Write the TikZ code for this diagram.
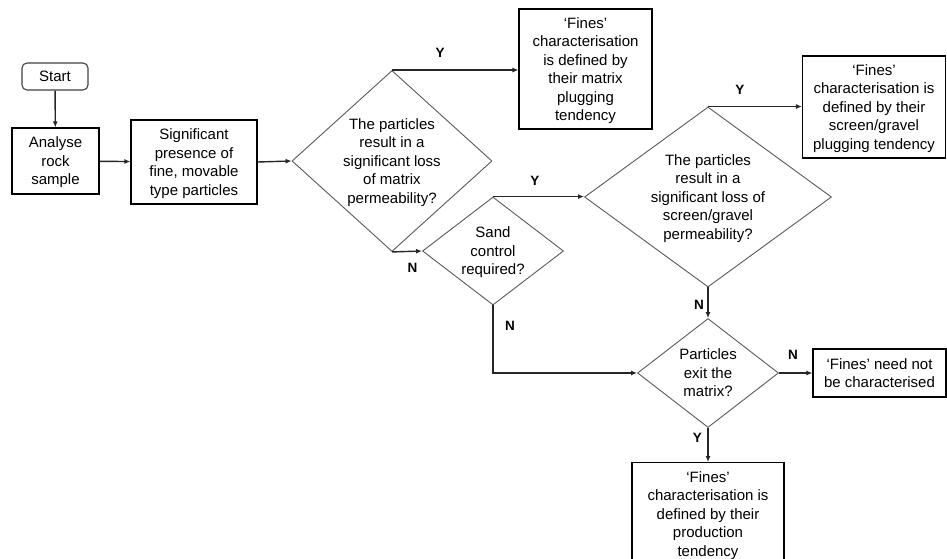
\documentclass[tikz,border=0pt]{standalone}
\usepackage{fontspec}
\setmainfont{Liberation Sans}
\usetikzlibrary{positioning,arrows.meta,shapes.geometric}

\begin{document}
\begin{tikzpicture}[
  x=1pt, y=-1pt,
  font=\fontsize{15}{18.5}\selectfont,
  block/.style={rectangle, draw=black, line width=1.1pt, align=center, inner sep=4pt},
  startblock/.style={rectangle, draw=black!75, line width=1.1pt, rounded corners=5pt, minimum width=66pt, minimum height=27pt},
  decision/.style={diamond, draw=black!65, line width=0.9pt, align=center, inner sep=0pt, aspect=1.3},
  arrow/.style={-{Latex[length=6pt,width=5pt]}, line width=1.4pt, black!85},
  yn/.style={font=\fontsize{13.5}{13.5}\selectfont\bfseries, text=black}
]
  \useasboundingbox (0,0) rectangle (947,559);

  % Nodes
  \node[startblock] (start) at (55,76.5) {Start};
  \node[block, text depth=-2.8pt, minimum width=87pt, minimum height=66pt] (rock) at (55.5,161) {Analyse\\rock\\sample};
  \node[block, text depth=-0.8pt, minimum width=126pt, minimum height=84pt] (sig) at (194,162) {Significant\\presence of\\fine, movable\\type particles};

  \node[decision, text depth=-4.8pt, aspect=1.1, minimum width=200pt, minimum height=181pt] (matrix) at (392,161) {The particles\\result in a\\significant loss\\of matrix\\permeability?};
  \node[block, text depth=-1.8pt, minimum width=133pt, minimum height=120pt] (plugmatrix) at (585.5,69) {‘Fines’\\characterisation\\is defined by\\their matrix\\plugging\\tendency};

  \node[decision, text depth=-1.8pt, minimum width=141pt, minimum height=108pt] (sand) at (493,251) {Sand\\control\\required?};
  \node[decision, text depth=-5.8pt, aspect=1.37, minimum width=247pt, minimum height=180pt] (screen) at (708,197) {The particles\\result in a\\significant loss of\\screen/gravel\\permeability?};
  \node[block, text depth=-0.8pt, minimum width=143pt, minimum height=102pt] (plugscreen) at (874,107) {‘Fines’\\characterisation is\\defined by their\\screen/gravel\\plugging tendency};

  \node[decision, minimum width=141pt, minimum height=109pt] (exit) at (708,373) {Particles\\exit the\\matrix?};
  \node[block, minimum width=133pt, minimum height=48pt] (nochar) at (879.5,373) {‘Fines’ need not\\be characterised};
  \node[block, minimum width=152pt, minimum height=106pt, anchor=north] (production) at (708,462) {‘Fines’\\characterisation is\\defined by their\\production\\tendency};

  % Arrows
  \draw[arrow] (start) -- (rock);
  \draw[arrow] (rock) -- (sig);
  \draw[arrow] (sig.east) -- (matrix.west);

  \draw[arrow] (matrix.north) -- node[yn, pos=0.38, above=9pt] {Y} (matrix.north -| plugmatrix.west);
  \draw[arrow] (matrix.south) -- node[yn, pos=0.68, below=8pt] {N} (sand.west);

  \draw[arrow] (sand.north) -- node[yn, pos=0.46, above=7pt] {Y} (sand.north -| screen.west);
  \draw[arrow] (sand.south) |- node[yn, pos=0.15, right=8pt] {N} (exit.west);

  \draw[arrow] (screen.north) -- node[yn, pos=0.34, above=8pt] {Y} (screen.north -| plugscreen.west);
  \draw[arrow] (screen.south) -- node[yn, pos=0.58, left] {N} (exit.north);

  \draw[arrow] (exit.east) -- node[yn, pos=0.42, above=9pt] {N} (nochar.west);
  \draw[arrow] (exit.south) -- node[yn, pos=0.3, left=2pt] {Y} (production.north);

\end{tikzpicture}
\end{document}
